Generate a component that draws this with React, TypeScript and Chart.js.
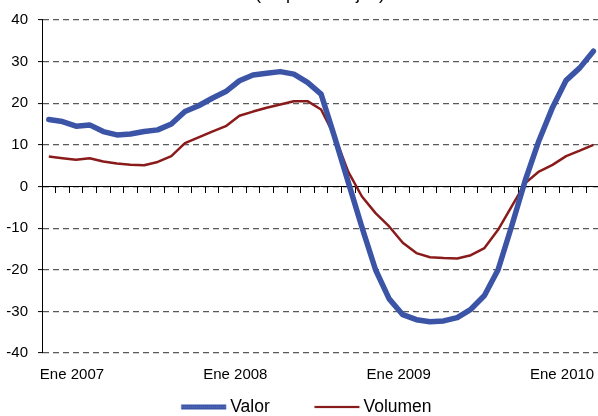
import React, { useEffect, useRef } from 'react';
import { Chart, registerables } from 'chart.js';

Chart.register(...registerables);

// Monthly categories (Nov 2006 - Mar 2010)
const months = [
  'Nov 2006', 'Dic 2006',
  'Ene 2007', 'Feb 2007', 'Mar 2007', 'Abr 2007', 'May 2007', 'Jun 2007', 'Jul 2007', 'Ago 2007', 'Sep 2007', 'Oct 2007', 'Nov 2007', 'Dic 2007',
  'Ene 2008', 'Feb 2008', 'Mar 2008', 'Abr 2008', 'May 2008', 'Jun 2008', 'Jul 2008', 'Ago 2008', 'Sep 2008', 'Oct 2008', 'Nov 2008', 'Dic 2008',
  'Ene 2009', 'Feb 2009', 'Mar 2009', 'Abr 2009', 'May 2009', 'Jun 2009', 'Jul 2009', 'Ago 2009', 'Sep 2009', 'Oct 2009', 'Nov 2009', 'Dic 2009',
  'Ene 2010', 'Feb 2010', 'Mar 2010',
];

const valor = [
  16.1, 15.6, 14.5, 14.8, 13.2, 12.4, 12.6, 13.2, 13.6, 15.0, 18.0, 19.4, 21.2, 22.8,
  25.4, 26.8, 27.2, 27.6, 27.0, 25.0, 22.2, 11.8, 1.0, -9.8, -20.0, -27.0, -30.8,
  -32.0, -32.5, -32.3, -31.5, -29.5, -26.2, -20.0, -9.5, 1.5, 11.0, 19.0, 25.5, 28.5, 32.5,
];

const volumen = [
  7.2, 6.8, 6.4, 6.8, 6.0, 5.5, 5.2, 5.1, 5.9, 7.3, 10.4, 11.8, 13.2, 14.5,
  17.0, 18.0, 18.9, 19.7, 20.5, 20.5, 18.5, 12.0, 3.5, -2.4, -6.4, -9.6, -13.5,
  -16.0, -17.0, -17.2, -17.3, -16.5, -14.8, -10.4, -4.8, 0.8, 3.6, 5.2, 7.3, 8.6, 10.0,
];

const seriesNames = ['Valor', 'Volumen'];
const yTickValues = [-40, -30, -20, -10, 0, 10, 20, 30, 40];
const titleText = '(en porcentajes)';

const FONT = "'Liberation Sans', Arial, Helvetica, sans-serif";
const BLUE = '#3b54a6';
const BLUE_LIGHT = '#6f86cc';
const RED = '#8a1b1b';
const GRID = '#5a5a5a';

// legend sample geometry
const LEG_BOX = 75;
const LEG_LINE = 45;
const LEG_GAP = 4.75;

function makeLegendLine(color: string, width: number, dotted?: string) {
  const c = document.createElement('canvas');
  const half = Math.ceil(LEG_BOX / 2 + LEG_GAP + 1);
  c.width = half * 2;
  c.height = 8;
  const g = c.getContext('2d')!;
  const right = half + LEG_BOX / 2 + LEG_GAP;
  const left = right - LEG_LINE;
  g.fillStyle = color;
  g.fillRect(left, 4 - width / 2, LEG_LINE, width);
  if (dotted) {
    g.fillStyle = dotted;
    for (let xx = left + 1; xx < right - 1; xx += 2) g.fillRect(xx, 3.5, 1, 1);
  }
  return c;
}

export default function App() {
  const ref = useRef<HTMLCanvasElement>(null);

  useEffect(() => {
    if (!ref.current) return;
    Chart.defaults.font.family = FONT;
    Chart.defaults.color = '#000';

    const yearLabelIdx = months
      .map((m, i) => (m.startsWith('Ene') ? i : -1))
      .filter((i) => i >= 0);
    const yearLabelText = yearLabelIdx.map((i) => months[i]);
    const labelShift = -0.3;
    const xMin = -0.5;
    const xMax = 40.34;
    const boundaries = months.slice(1).map((_, i) => i + 0.5);

    const blueSample = makeLegendLine(BLUE, 5, BLUE_LIGHT);
    const redSample = makeLegendLine(RED, 2.2);

    const chart = new Chart(ref.current, {
      type: 'line',
      data: {
        datasets: [
          {
            label: seriesNames[0],
            data: valor.map((v, i) => ({ x: i, y: v })),
            borderColor: BLUE,
            backgroundColor: BLUE,
            borderWidth: 5.5,
            pointRadius: 0,
            tension: 0,
            borderJoinStyle: 'round',
            borderCapStyle: 'round',
            xAxisID: 'x',
            yAxisID: 'y',
          },
          {
            label: seriesNames[1],
            data: volumen.map((v, i) => ({ x: i, y: v })),
            borderColor: RED,
            backgroundColor: RED,
            borderWidth: 2.5,
            pointRadius: 0,
            tension: 0,
            borderJoinStyle: 'round',
            xAxisID: 'x',
            yAxisID: 'y',
          },
        ],
      },
      options: {
        responsive: false,
        animation: false,
        devicePixelRatio: 1,
        layout: { padding: { left: -20, top: -16.6, right: 0, bottom: -9.75 } },
        scales: {
          x: {
            type: 'linear',
            position: { y: 0 } as any,
            min: xMin,
            max: xMax,
            afterBuildTicks: (s: any) => {
              s.ticks = boundaries.map((v) => ({ value: v }));
            },
            ticks: { display: false, padding: 0 },
            grid: {
              display: true,
              drawOnChartArea: false,
              drawTicks: true,
              tickLength: 6,
              tickColor: '#000',
              tickWidth: 1,
            },
            border: { display: true, color: '#000', width: 1 },
          },
          x2: {
            type: 'linear',
            position: 'bottom',
            min: xMin,
            max: xMax,
            afterBuildTicks: (s: any) => {
              s.ticks = yearLabelIdx.map((i) => ({ value: i + labelShift }));
            },
            afterFit: (s: any) => {
              s.height = 35.25;
            },
            ticks: {
              autoSkip: false,
              maxRotation: 0,
              padding: 0,
              font: { size: 15 },
              color: '#000',
              callback: (_v: any, idx: number) => yearLabelText[idx],
            },
            grid: { display: false, drawTicks: true, tickLength: 12.5 },
            border: { display: false },
          },
          y: {
            type: 'linear',
            min: -40,
            max: 40,
            afterBuildTicks: (s: any) => {
              s.ticks = yTickValues.map((v) => ({ value: v }));
            },
            afterFit: (s: any) => {
              s.width = 62;
            },
            ticks: {
              padding: 10,
              font: { size: 15 },
              color: '#000',
            },
            grid: {
              color: (c: any) => (c.tick && c.tick.value === 0 ? '#000' : GRID),
              lineWidth: 1.2,
              drawTicks: true,
              tickLength: 4,
              tickColor: '#000',
              tickWidth: 1,
            },
            border: { display: true, color: '#000', width: 1, dash: [6, 4] },
          },
        },
        plugins: {
          title: {
            display: true,
            fullSize: false,
            text: titleText,
            font: { size: 18, weight: 'normal' },
            color: '#000',
            padding: { top: 0, bottom: 15 },
          },
          legend: {
            display: true,
            position: 'bottom',
            labels: {
              usePointStyle: true,
              pointStyleWidth: LEG_BOX,
              padding: 10,
              font: { size: 17.5 },
              color: '#000',
              generateLabels: () => [
                {
                  text: seriesNames[0],
                  pointStyle: blueSample,
                  strokeStyle: BLUE,
                  fillStyle: BLUE,
                  lineWidth: 0,
                  hidden: false,
                  datasetIndex: 0,
                } as any,
                {
                  text: seriesNames[1],
                  pointStyle: redSample,
                  strokeStyle: RED,
                  fillStyle: RED,
                  lineWidth: 0,
                  hidden: false,
                  datasetIndex: 1,
                } as any,
              ],
            },
          },
          tooltip: { enabled: false },
        },
      } as any,
    });

    return () => chart.destroy();
  }, []);

  return (
    <canvas
      ref={ref}
      width={598}
      height={416}
      style={{ position: 'absolute', left: 0, top: 0, width: 598, height: 416 }}
    />
  );
}
